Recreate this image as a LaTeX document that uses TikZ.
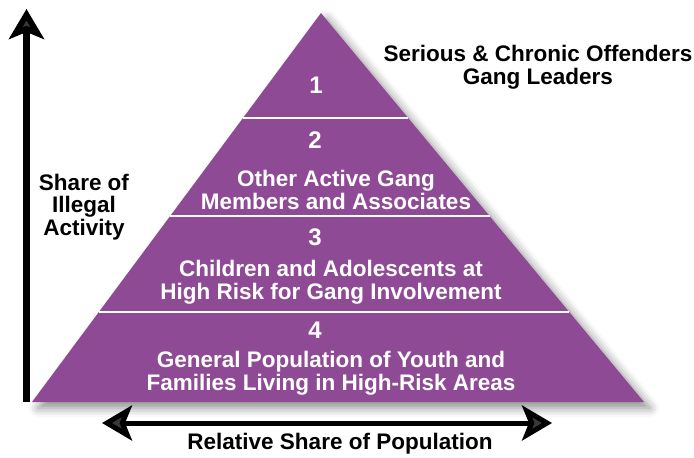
\documentclass[tikz,border=0pt]{standalone}
\usepackage{fontspec}
\setmainfont{Liberation Sans}
\usetikzlibrary{arrows.meta,calc,shadows.blur}
\definecolor{gangpurple}{HTML}{8F4A96}
\tikzset{axtip/.tip = {Stealth[length=30pt, width=35pt, inset=7pt]}}

\begin{document}
\begin{tikzpicture}[x=1pt, y=-1pt,
  lbl/.style = {font=\bfseries\fontsize{22.5}{22.5}\selectfont, align=center, inner sep=0},
  inlbl/.style = {lbl, text=white},
  num/.style = {font=\bfseries\fontsize{24}{24}\selectfont, text=white, inner sep=0},
  axis/.style = {line width=#1},
  sep/.style = {draw=white, line width=2pt}]
	\useasboundingbox (0,0) rectangle (694,458);
	\coordinate (T) at (321,13);
	\coordinate (L) at (32,402);
	\coordinate (R) at (644,402);
	\fill[gangpurple, blur shadow={shadow xshift=6pt, shadow yshift=-6pt, shadow blur radius=9pt, shadow opacity=45}] (T) -- (L) -- (R) -- cycle;
	\foreach \t in {0.27, 0.522, 0.769}
	    \draw[sep] ($(T)!\t!(L)$) -- ($(T)!\t!(R)$);
	\coordinate (Y0) at (26.5,402);
	\coordinate (Y1) at (26.5,9);
	\coordinate (X0) at (102,423);
	\coordinate (X1) at (552,423);
	\draw[axis=7pt, -axtip] (Y0) -- (Y1);
	\draw[axis=5pt, axtip-axtip] (X0) -- (X1);
	\node[lbl] (share) at (84,207) {Share of\\Illegal\\Activity};
	\node[lbl] (leaders) at (538,67) {Serious \& Chronic Offenders\\Gang Leaders};
	\node[lbl] (pop) at (340,444) {Relative Share of Population};
	\node[num] (n1) at (316,85) {1};
	\node[num] (n2) at (315,140) {2};
	\node[inlbl] (t2) at (336,190) {Other Active Gang\\Members and Associates};
	\node[num] (n3) at (315,237) {3};
	\node[inlbl] (t3) at (331,282) {Children and Adolescents at\\High Risk for Gang Involvement};
	\node[num] (n4) at (315,330) {4};
	\node[inlbl] (t4) at (331,373) {General Population of Youth and\\Families Living in High-Risk Areas};
\end{tikzpicture}
\end{document}
